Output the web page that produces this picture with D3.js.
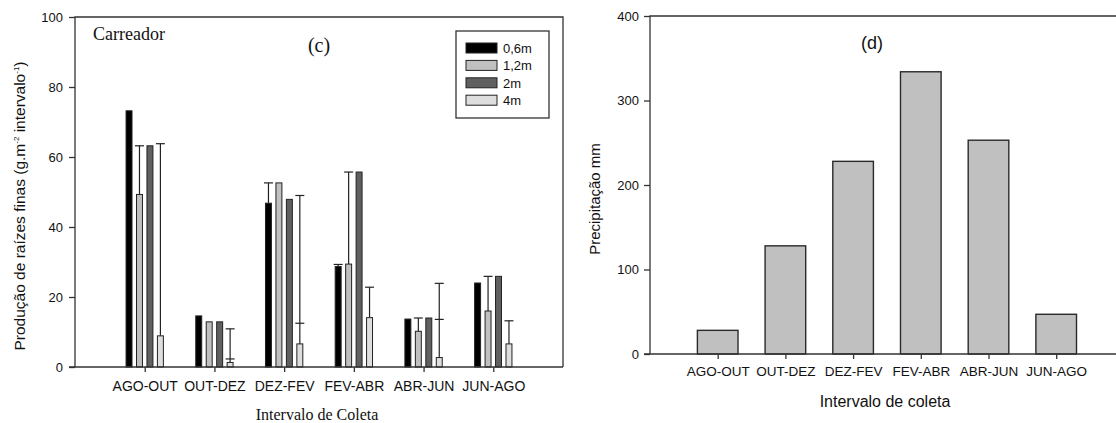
<!DOCTYPE html>
<html>
<head>
<meta charset="utf-8">
<script src="https://cdn.jsdelivr.net/npm/d3@7"></script>
<style>
  body { margin: 0; background: #fff; }
  svg { display: block; }
  .sans { font-family: "Liberation Sans", Arial, sans-serif; fill: #111; }
  .serif { font-family: "Liberation Serif", "Times New Roman", serif; fill: #111; }
</style>
</head>
<body>
<svg id="chart" width="1116" height="423"></svg>
<script>
// --- données ---
const intervals = ['AGO-OUT', 'OUT-DEZ', 'DEZ-FEV', 'FEV-ABR', 'ABR-JUN', 'JUN-AGO'];
const depths = ['0,6m', '1,2m', '2m', '4m'];

// (c) production de racines fines
const prod06 = [73.2, 14.6, 46.8, 28.7, 13.7, 24.0];
const prod12 = [49.3, 12.9, 52.6, 29.4, 10.2, 16.0];
const prod2  = [63.2, 12.9, 47.9, 55.7, 14.0, 25.9];
const prod4  = [8.9, 1.3, 6.6, 14.1, 2.7, 6.6];

// sommet des barres d'erreur (null = pas de barre)
const err06 = [null, null, 52.6, 29.3, null, null];
const err12 = [63.2, null, null, 55.7, 14.0, 25.9];
const err2  = [null, null, null, null, null, null];
const err4  = [63.8, 10.9, 49.0, 22.8, 23.9, 13.2];
const mid4  = [null, 2.3, 12.5, null, 13.6, null];

const yTicksC = [0, 20, 40, 60, 80, 100];

// (d) précipitation
const precip = [28, 128, 228, 334, 253, 47];
const yTicksD = [0, 100, 200, 300, 400];

const fills = ['#000000', '#c0c0c0', '#606060', '#dedede'];
const axisColor = '#333';

const svg = d3.select('#chart');

// ================= Panneau (c) =================
const c = { left: 75, right: 563, top: 17, bottom: 367 };
const xc = d3.scaleLinear().domain([0, 7]).range([c.left, c.right]);
const yc = d3.scaleLinear().domain([0, 100]).range([c.bottom, c.top]);
const step = xc(1) - xc(0);
const inner = d3.scaleBand().domain(depths)
    .range([-step * 0.3, step * 0.3])
    .paddingInner(0.43).paddingOuter(0.215);

const gc = svg.append('g');

const series = [
    { key: depths[0], vals: prod06, err: err06 },
    { key: depths[1], vals: prod12, err: err12 },
    { key: depths[2], vals: prod2, err: err2 },
    { key: depths[3], vals: prod4, err: err4, mid: mid4 }
];

series.forEach((s, si) => {
    const rows = intervals.map((cat, i) => ({ i, v: s.vals[i], e: s.err[i], m: s.mid ? s.mid[i] : null }));
    const cx = d => xc(d.i + 1) + inner(s.key) + inner.bandwidth() / 2;

    // barres d'erreur (derrière les barres)
    const eb = gc.append('g').attr('stroke', '#222').attr('stroke-width', 1.2);
    rows.filter(d => d.e != null).forEach(d => {
        eb.append('line').attr('x1', cx(d)).attr('x2', cx(d)).attr('y1', yc(d.v)).attr('y2', yc(d.e));
        eb.append('line').attr('x1', cx(d) - 4.5).attr('x2', cx(d) + 4.5).attr('y1', yc(d.e)).attr('y2', yc(d.e));
    });
    rows.filter(d => d.m != null).forEach(d => {
        eb.append('line').attr('x1', cx(d) - 4.5).attr('x2', cx(d) + 4.5).attr('y1', yc(d.m)).attr('y2', yc(d.m));
    });

    gc.append('g').selectAll('rect')
        .data(rows)
        .join('rect')
        .attr('x', d => xc(d.i + 1) + inner(s.key))
        .attr('width', inner.bandwidth())
        .attr('y', d => yc(d.v))
        .attr('height', d => yc(0) - yc(d.v))
        .attr('fill', fills[si])
        .attr('stroke', '#222')
        .attr('stroke-width', 1);
});

// cadre et axes
gc.append('path')
    .attr('d', `M${c.left},${c.bottom}V${c.top}H${c.right}V${c.bottom}`)
    .attr('fill', 'none').attr('stroke', axisColor).attr('stroke-width', 1.3);

const axLc = gc.append('g').attr('transform', `translate(${c.left},0)`)
    .call(d3.axisLeft(yc).tickValues(yTicksC).tickSize(6).tickPadding(6));
const axBc = gc.append('g').attr('transform', `translate(0,${c.bottom})`)
    .call(d3.axisBottom(xc).tickValues(d3.range(1, 7)).tickFormat(i => intervals[i - 1]).tickSize(5).tickPadding(9));
axBc.select('.domain').attr('d', `M${c.left - 6},0H${c.right}`);
[axLc, axBc].forEach(a => {
    a.selectAll('.domain, line').attr('stroke', axisColor).attr('stroke-width', 1.3);
    a.selectAll('text').attr('class', 'sans').style('font-size', '13px').attr('fill', '#111');
});
axBc.selectAll('text').style('font-size', '14px');
axLc.select('.domain').remove();

gc.append('text').attr('class', 'serif').attr('x', 93).attr('y', 40)
    .style('font-size', '18px').text('Carreador');
gc.append('text').attr('class', 'serif').attr('x', 319).attr('y', 52)
    .attr('text-anchor', 'middle').style('font-size', '20px').text('(c)');

gc.append('text').attr('class', 'serif').attr('x', (c.left + c.right) / 2 - 2).attr('y', 420)
    .attr('text-anchor', 'middle').style('font-size', '16px').text('Intervalo de Coleta');

const yTitle = gc.append('text').attr('class', 'sans')
    .attr('transform', `translate(25,${(c.top + c.bottom) / 2 + 14}) rotate(-90)`)
    .attr('text-anchor', 'middle').style('font-size', '15.5px');
yTitle.append('tspan').text('Produção de raízes finas (g.m');
yTitle.append('tspan').attr('dy', -6).style('font-size', '8px').text('-2');
yTitle.append('tspan').attr('dy', 6).text(' intervalo');
yTitle.append('tspan').attr('dy', -6).style('font-size', '8px').text('-1');
yTitle.append('tspan').attr('dy', 6).text(')');

// légende
const lg = gc.append('g').attr('transform', 'translate(456,31)');
lg.append('rect').attr('width', 93).attr('height', 87)
    .attr('fill', '#fff').attr('stroke', axisColor).attr('stroke-width', 1.3);
depths.forEach((d, i) => {
    const yy = 17 + i * 17.4;
    lg.append('rect').attr('x', 10).attr('y', yy - 5).attr('width', 31).attr('height', 10)
        .attr('fill', fills[i]).attr('stroke', '#222').attr('stroke-width', 1);
    lg.append('text').attr('class', 'sans').attr('x', 47).attr('y', yy + 5)
        .style('font-size', '13px').text(d);
});

// ================= Panneau (d) =================
const p = { left: 650, right: 1116, top: 16, bottom: 354 };
const xd = d3.scaleLinear().domain([0, 7]).range([p.left, p.left + 7 * 67.7]);
const yd = d3.scaleLinear().domain([0, 400]).range([p.bottom, p.top]);
const bw = 67.7 * 0.6;

const gd = svg.append('g');
gd.append('g').selectAll('rect')
    .data(precip)
    .join('rect')
    .attr('x', (d, i) => xd(i + 1) - bw / 2)
    .attr('width', bw)
    .attr('y', d => yd(d))
    .attr('height', d => yd(0) - yd(d))
    .attr('fill', '#c0c0c0')
    .attr('stroke', '#2a2a2a')
    .attr('stroke-width', 1.4);

gd.append('path')
    .attr('d', `M${p.left},${p.bottom}V${p.top}H${p.right}`)
    .attr('fill', 'none').attr('stroke', axisColor).attr('stroke-width', 1.3);

const axLd = gd.append('g').attr('transform', `translate(${p.left},0)`)
    .call(d3.axisLeft(yd).tickValues(yTicksD).tickSize(6).tickPadding(5));
const axBd = gd.append('g').attr('transform', `translate(0,${p.bottom})`)
    .call(d3.axisBottom(xd).tickValues(d3.range(1, 7)).tickFormat(i => intervals[i - 1]).tickSize(5).tickPadding(7));
axBd.select('.domain').attr('d', `M${p.left - 6},0H${p.right}`);
[axLd, axBd].forEach(a => {
    a.selectAll('.domain, line').attr('stroke', axisColor).attr('stroke-width', 1.3);
    a.selectAll('text').attr('class', 'sans').style('font-size', '13px').attr('fill', '#111');
});
axBd.selectAll('text').style('font-size', '13.5px');
axLd.select('.domain').remove();

gd.append('text').attr('class', 'sans').attr('x', 872).attr('y', 49)
    .attr('text-anchor', 'middle').style('font-size', '18px').text('(d)');
gd.append('text').attr('class', 'sans').attr('x', 885).attr('y', 407)
    .attr('text-anchor', 'middle').style('font-size', '16px').text('Intervalo de coleta');
gd.append('text').attr('class', 'sans')
    .attr('transform', `translate(600,${(p.top + p.bottom) / 2 + 14}) rotate(-90)`)
    .attr('text-anchor', 'middle').style('font-size', '15px').text('Precipitação mm');
</script>
</body>
</html>
